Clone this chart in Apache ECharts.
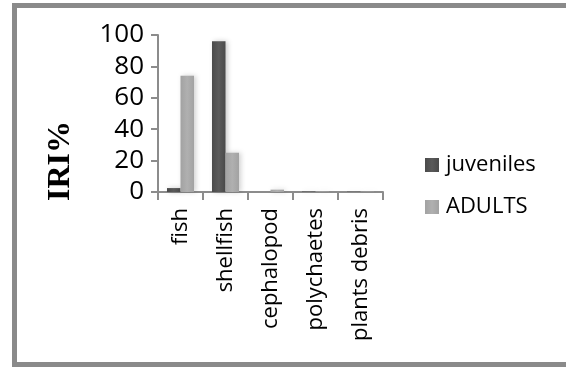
<!DOCTYPE html>
<html>
<head>
<meta charset="utf-8">
<script src="https://cdn.jsdelivr.net/npm/echarts@6/dist/echarts.min.js"></script>
<style>
  html, body { margin: 0; padding: 0; background: #fff; }
  #chart { width: 566px; height: 367px; }
</style>
</head>
<body>
<div id="chart"></div>
<script>
// Prey categories and IRI% per life stage
const categories = ['fish', 'shellfish', 'cephalopod', 'polychaetes', 'plants debris'];
const juveniles = [2.5, 96, 0, 0.3, 0.2];
const adults = [74, 25, 1.5, 0.3, 0.2];
const yTicks = [0, 20, 40, 60, 80, 100];

const chart = echarts.init(document.getElementById('chart'), null, { renderer: 'canvas' });

function barFill(c1, c2) {
  return new echarts.graphic.LinearGradient(0, 0, 1, 0, [
    { offset: 0, color: c1 },
    { offset: 0.5, color: c2 },
    { offset: 1, color: c1 }
  ]);
}

chart.setOption({
  animation: false,
  backgroundColor: '#ffffff',
  grid: { left: 158, right: 183, top: 35, bottom: 175, containLabel: false },
  legend: {
    orient: 'vertical',
    left: 420,
    top: 149,
    itemWidth: 14,
    itemHeight: 14,
    itemGap: 20,
    icon: 'rect',
    textStyle: { fontFamily: 'Open Sans', fontSize: 22, color: '#000', padding: [0, 0, 0, 2] },
    data: ['juveniles', 'ADULTS']
  },
  xAxis: {
    type: 'category',
    data: categories,
    boundaryGap: true,
    axisLine: { show: true, lineStyle: { color: '#8c8c8c', width: 2 } },
    axisTick: { show: true, length: 8, lineStyle: { color: '#8c8c8c', width: 2 } },
    axisLabel: {
      rotate: 90,
      margin: 16,
      interval: 0,
      fontFamily: 'Open Sans',
      fontSize: 22,
      color: '#000'
    }
  },
  yAxis: {
    type: 'value',
    min: 0,
    max: 100,
    interval: 20,
    axisLine: { show: true, lineStyle: { color: '#8c8c8c', width: 2 } },
    axisTick: { show: true, length: 7, lineStyle: { color: '#8c8c8c', width: 2 } },
    splitLine: { show: false },
    axisLabel: {
      margin: 14,
      fontFamily: 'Open Sans',
      fontSize: 26,
      color: '#000',
      formatter: function (v) { return yTicks.indexOf(v) >= 0 ? String(v) : ''; }
    }
  },
  series: [
    {
      name: 'juveniles',
      type: 'bar',
      data: juveniles,
      barGap: '0%',
      barCategoryGap: '40%',
      itemStyle: {
        color: barFill('#4a4a4a', '#5a5a5a'),
        shadowBlur: 5,
        shadowColor: 'rgba(0,0,0,0.22)',
        shadowOffsetX: 2
      }
    },
    {
      name: 'ADULTS',
      type: 'bar',
      data: adults,
      barGap: '0%',
      barCategoryGap: '40%',
      itemStyle: {
        color: barFill('#a2a2a2', '#b0b0b0'),
        shadowBlur: 5,
        shadowColor: 'rgba(0,0,0,0.18)',
        shadowOffsetX: 2
      }
    }
  ],
  graphic: [
    {
      type: 'rect',
      shape: { x: 14.5, y: 5.5, width: 620, height: 359 },
      style: { fill: 'none', stroke: '#8a8a8a', lineWidth: 5 },
      silent: true
    },
    {
      type: 'text',
      x: 61,
      y: 161,
      rotation: Math.PI / 2,
      style: {
        text: 'IRI%',
        fontFamily: 'Liberation Serif',
        fontWeight: 'bold',
        fontSize: 32,
        fill: '#000',
        align: 'center',
        verticalAlign: 'middle'
      }
    }
  ]
});
</script>
</body>
</html>
